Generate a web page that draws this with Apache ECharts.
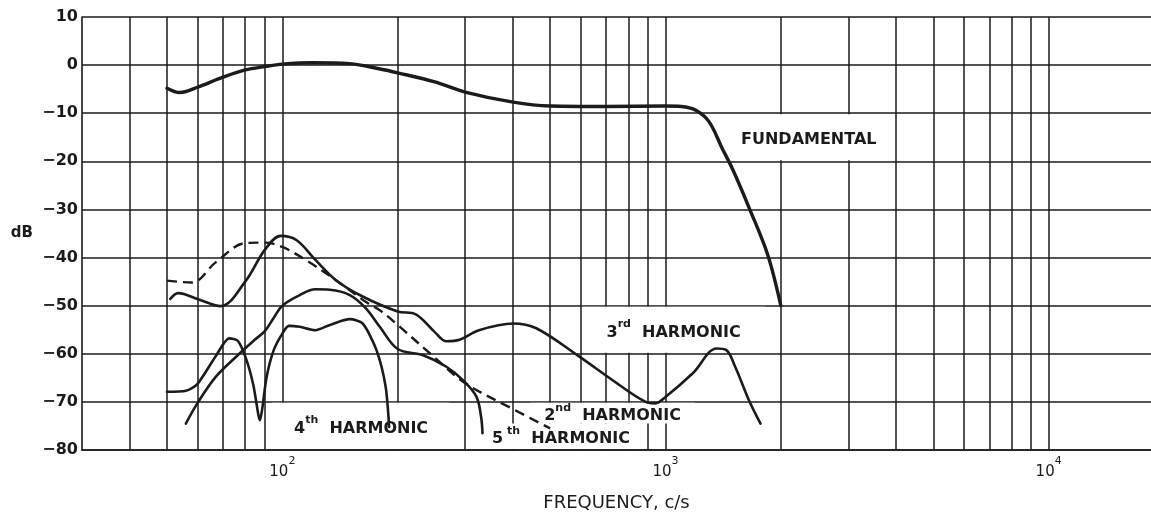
<!DOCTYPE html>
<html>
<head>
<meta charset="utf-8">
<script src="https://cdn.jsdelivr.net/npm/echarts@6/dist/echarts.min.js"></script>
<style>
html,body{margin:0;padding:0;background:#ffffff;}
#chart{width:1151px;height:512px;}
</style>
</head>
<body>
<div id="chart"></div>
<script>
// ---------- data (frequency in c/s, level in dB) ----------
const fundamental = [
  [50,-4.8],[54,-5.7],[60,-4.6],[70,-2.5],[80,-1.0],[90,-0.3],[100,0.2],[120,0.5],
  [150,0.3],[180,-0.8],[200,-1.6],[250,-3.5],[300,-5.6],[400,-7.7],[500,-8.5],
  [700,-8.6],[1000,-8.5],[1100,-8.6],[1200,-9.4],[1300,-11.8],[1400,-17],
  [1500,-21.8],[1650,-29.5],[1850,-39.5],[2000,-50]
];
const harmonic2 = [
  [50,-44.8],[58,-45.2],[67,-41],[80,-37],[90,-36.9],[100,-37.8],[115,-40.5],
  [138,-44.7],[165,-49.2],[180,-51],[200,-54],[250,-60.8],[300,-66.1],[400,-71.5],[500,-75.5]
];
const harmonic3 = [
  [51,-48.6],[53.5,-47.4],[60,-48.6],[69,-50.1],[80,-45],[90,-38.4],[99,-35.5],[109,-36.4],
  [122,-40.5],[138,-44.7],[162,-48.1],[200,-51.2],[223,-51.8],[250,-55.5],[268,-57.4],
  [290,-57.1],[326,-55.1],[400,-53.7],[460,-54.7],[596,-60.6],[728,-65.5],[888,-70],
  [940,-70.3],[1000,-69],[1180,-64],[1360,-58.9],[1440,-59.2],[1520,-62.7],[1650,-69.6],[1770,-74.5]
];
const harmonic4 = [
  [50,-67.9],[56,-67.7],[60,-66.3],[67,-60.5],[72.7,-56.8],[76.5,-57.3],[80.4,-61],
  [84,-66.5],[86.5,-72.5],[87.4,-73.8],[88.6,-71.5],[91,-64.8],[95,-59.2],[100,-55.8],
  [104,-54.2],[111,-54.4],[122,-55.1],[133,-54],[150,-52.8],[162,-53.7],[176,-59.2],
  [186,-66.8],[190,-75.2]
];
const harmonic5 = [
  [56,-74.5],[60,-70.3],[67,-64.8],[76,-60.5],[85,-57],[90,-55.3],[95,-52.5],[100,-50],
  [111,-47.8],[122,-46.6],[133,-46.7],[150,-47.8],[165,-50.5],[180,-54.5],[200,-59],
  [233,-60.3],[268,-62.7],[296,-65.5],[321,-68.9],[330,-73],[333,-76.5]
];
const gridFreqs = [40,50,60,70,80,90,100,200,300,400,500,600,700,800,900,1000,
  2000,3000,4000,5000,6000,7000,8000,9000,10000];
const yTicks = [10,0,-10,-20,-30,-40,-50,-60,-70,-80];
// curve labels: text, frequency span and dB span of their white panel
const labelTexts = {
  fund: '{t|FUNDAMENTAL}',
  h3: '{t|3}{s|rd}{t|  HARMONIC}',
  h2: '{t|2}{s|nd}{t|  HARMONIC}',
  h4: '{t|4}{s|th}{t|  HARMONIC}',
  h5: '{t|5}{s| th}{t|  HARMONIC}'
};
const labelSpans = [
  ['fund', 1450, 3860, -10.2, -19.8],
  ['h3',   606, 1820, -50.2, -59.8],
  ['h2',   443, 1195, -70.2, -74.5],
  ['h5',   328,  869, -74.5, -79.8],
  ['h4',    94,  274, -70.2, -79.8]
];

// ---------- chart ----------
const INK = '#1b1b1b';
const FONT = 'DejaVu Sans';
const chart = echarts.init(document.getElementById('chart'), null, {renderer: 'canvas'});

function curve(name, data, extra) {
  return Object.assign({
    name: name, type: 'line', data: data, z: 3,
    showSymbol: false, symbol: 'none', smooth: 0.35, silent: true,
    lineStyle: {color: INK, width: 2.6, cap: 'round', join: 'round'}
  }, extra || {});
}

const option = {
  animation: false,
  backgroundColor: '#ffffff',
  grid: {left: 82, right: 0, top: 17, bottom: 62, containLabel: false, outerBoundsMode: 'none'},
  xAxis: {
    type: 'log', logBase: 10, min: 30, max: 18500,
    name: 'FREQUENCY, c/s', nameLocation: 'middle', nameGap: 44,
    nameTextStyle: {fontFamily: FONT, fontSize: 18, color: INK},
    axisLine: {show: true, onZero: false, lineStyle: {color: INK, width: 1.6}},
    axisTick: {show: false},
    splitLine: {show: false},
    axisLabel: {
      show: true, margin: 6, showMinLabel: false, showMaxLabel: false,
      formatter: function (v) {
        const e = Math.log10(v);
        if (Math.abs(e - Math.round(e)) < 1e-6) return '{b|10}{s|' + Math.round(e) + '}';
        return '';
      },
      rich: {
        b: {fontFamily: FONT, fontSize: 15, color: INK, lineHeight: 24, verticalAlign: 'bottom'},
        s: {fontFamily: FONT, fontSize: 11, color: INK, lineHeight: 24, verticalAlign: 'top'}
      }
    }
  },
  yAxis: {
    type: 'value', min: -80, max: 10, interval: 10,
    name: 'dB', nameLocation: 'middle', nameRotate: 0, nameGap: 49,
    nameTextStyle: {fontFamily: FONT, fontSize: 15, fontWeight: 'bold', color: INK},
    axisLine: {show: true, onZero: false, lineStyle: {color: INK, width: 1.6}},
    axisTick: {show: false},
    splitLine: {show: true, lineStyle: {color: INK, width: 1.5}},
    axisLabel: {
      margin: 4, fontFamily: FONT, fontSize: 16, fontWeight: 'bold', color: INK,
      formatter: function (v) { return String(v).replace('-', '\u2212'); }
    }
  },
  series: [
    {
      name: 'grid', type: 'line', data: [], silent: true, z: 1,
      markLine: {
        silent: true, z: 1, symbol: ['none', 'none'], animation: false,
        label: {show: false},
        lineStyle: {color: INK, width: 1.5, type: 'solid'},
        emphasis: {disabled: true},
        data: gridFreqs.map(function (f) { return {xAxis: f}; })
      }
    },
    {
      name: 'labels', type: 'line', data: [], silent: true, z: 2,
      markArea: {
        silent: true, z: 2, animation: false,
        itemStyle: {color: '#ffffff', opacity: 1, borderWidth: 0},
        emphasis: {disabled: true},
        label: {
          show: true, position: 'inside',
          formatter: function (p) { return labelTexts[p.name]; },
          rich: {
            t: {fontFamily: FONT, fontSize: 16, fontWeight: 'bold', color: INK, lineHeight: 22, verticalAlign: 'bottom'},
            s: {fontFamily: FONT, fontSize: 11, fontWeight: 'bold', color: INK, lineHeight: 22, verticalAlign: 'top'}
          }
        },
        data: labelSpans.map(function (l) {
          return [{name: l[0], xAxis: l[1], yAxis: l[3]}, {xAxis: l[2], yAxis: l[4]}];
        })
      }
    },
    curve('Fundamental', fundamental, {lineStyle: {color: INK, width: 3.4, cap: 'round', join: 'round'}}),
    curve('2nd harmonic', harmonic2, {lineStyle: {color: INK, width: 2.4, type: [10, 6]}}),
    curve('3rd harmonic', harmonic3),
    curve('4th harmonic', harmonic4, {smooth: 0.25}),
    curve('5th harmonic', harmonic5)
  ]
};
chart.setOption(option);
</script>
</body>
</html>
